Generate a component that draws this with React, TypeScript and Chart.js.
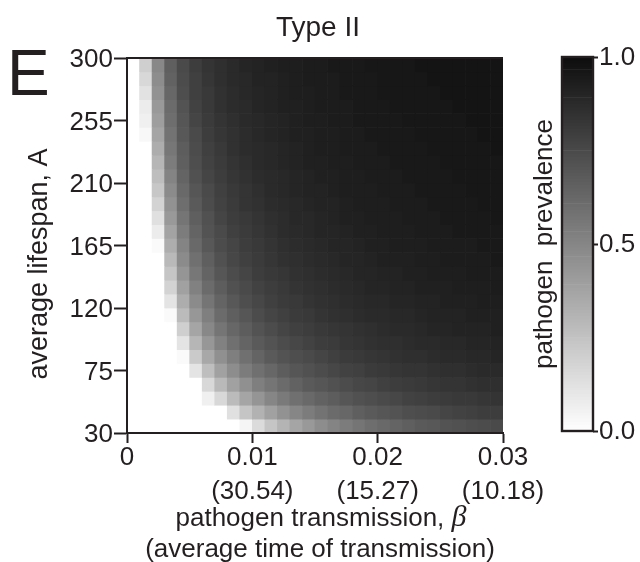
import React, { useEffect, useRef } from "react";
import { Chart, registerables } from "chart.js";

Chart.register(...registerables);

// ---- data ----
const betaCenters = [
  0.0005, 0.0015, 0.0025, 0.0035, 0.0045, 0.0055, 0.0065, 0.0075, 0.0085, 0.0095,
  0.0105, 0.0115, 0.0125, 0.0135, 0.0145, 0.0155, 0.0165, 0.0175, 0.0185, 0.0195,
  0.0205, 0.0215, 0.0225, 0.0235, 0.0245, 0.0255, 0.0265, 0.0275, 0.0285, 0.0295,
];
const lifespanCenters = [
  35, 45, 55, 65, 75, 85, 95, 105, 115, 125, 135, 145, 155, 165, 175, 185, 195, 205,
  215, 225, 235, 245, 255, 265, 275, 285, 295,
];
const lifespanStep = 10;

// prevalence per lifespan row (same order as lifespanCenters), per beta column
const prevalenceRows = [
  [0,0,0,0,0,0,0,0,0,0.04,0.15,0.24,0.31,0.37,0.42,0.47,0.51,0.54,0.57,0.60,0.62,0.64,0.66,0.68,0.69,0.71,0.72,0.73,0.74,0.75],
  [0,0,0,0,0,0,0,0,0.13,0.24,0.32,0.39,0.45,0.50,0.54,0.58,0.61,0.63,0.66,0.68,0.70,0.71,0.73,0.74,0.75,0.77,0.78,0.79,0.80,0.80],
  [0,0,0,0,0,0,0.06,0.16,0.28,0.37,0.44,0.50,0.55,0.59,0.62,0.65,0.67,0.70,0.72,0.73,0.75,0.76,0.78,0.79,0.80,0.81,0.82,0.82,0.83,0.84],
  [0,0,0,0,0,0,0.16,0.29,0.39,0.46,0.53,0.57,0.61,0.65,0.68,0.70,0.72,0.74,0.76,0.77,0.79,0.80,0.81,0.82,0.83,0.84,0.84,0.85,0.86,0.86],
  [0,0,0,0,0,0.11,0.27,0.39,0.47,0.54,0.59,0.63,0.67,0.70,0.72,0.74,0.76,0.78,0.79,0.81,0.82,0.83,0.84,0.84,0.85,0.86,0.86,0.87,0.88,0.88],
  [0,0,0,0,0.02,0.22,0.36,0.46,0.53,0.59,0.64,0.68,0.71,0.73,0.75,0.77,0.79,0.81,0.82,0.83,0.84,0.85,0.86,0.86,0.87,0.88,0.88,0.89,0.89,0.90],
  [0,0,0,0,0.11,0.30,0.43,0.52,0.59,0.64,0.68,0.71,0.74,0.76,0.78,0.80,0.81,0.83,0.84,0.85,0.86,0.86,0.87,0.88,0.88,0.89,0.89,0.90,0.90,0.91],
  [0,0,0,0,0.20,0.37,0.49,0.57,0.63,0.67,0.71,0.74,0.77,0.79,0.80,0.82,0.83,0.84,0.85,0.86,0.87,0.88,0.88,0.89,0.90,0.90,0.91,0.91,0.91,0.92],
  [0,0,0,0.02,0.28,0.43,0.53,0.61,0.66,0.70,0.74,0.77,0.79,0.81,0.82,0.84,0.85,0.86,0.87,0.88,0.88,0.89,0.89,0.90,0.91,0.91,0.91,0.92,0.92,0.92],
  [0,0,0,0.11,0.34,0.48,0.57,0.64,0.69,0.73,0.76,0.79,0.81,0.82,0.84,0.85,0.86,0.87,0.88,0.89,0.89,0.90,0.90,0.91,0.91,0.92,0.92,0.92,0.93,0.93],
  [0,0,0,0.18,0.39,0.52,0.61,0.67,0.72,0.75,0.78,0.80,0.82,0.84,0.85,0.86,0.87,0.88,0.89,0.90,0.90,0.91,0.91,0.92,0.92,0.92,0.93,0.93,0.93,0.94],
  [0,0,0,0.24,0.44,0.56,0.64,0.70,0.74,0.77,0.80,0.82,0.83,0.85,0.86,0.87,0.88,0.89,0.90,0.90,0.91,0.91,0.92,0.92,0.93,0.93,0.93,0.94,0.94,0.94],
  [0,0,0,0.29,0.48,0.59,0.66,0.72,0.76,0.79,0.81,0.83,0.85,0.86,0.87,0.88,0.89,0.90,0.90,0.91,0.92,0.92,0.92,0.93,0.93,0.94,0.94,0.94,0.94,0.95],
  [0,0,0.02,0.34,0.51,0.62,0.69,0.74,0.77,0.80,0.82,0.84,0.86,0.87,0.88,0.89,0.90,0.90,0.91,0.92,0.92,0.93,0.93,0.93,0.94,0.94,0.94,0.94,0.95,0.95],
  [0,0,0.08,0.38,0.54,0.64,0.71,0.75,0.79,0.81,0.83,0.85,0.87,0.88,0.89,0.90,0.90,0.91,0.92,0.92,0.93,0.93,0.93,0.94,0.94,0.94,0.95,0.95,0.95,0.95],
  [0,0,0.13,0.42,0.57,0.66,0.72,0.77,0.80,0.82,0.84,0.86,0.87,0.89,0.89,0.90,0.91,0.92,0.92,0.93,0.93,0.93,0.94,0.94,0.94,0.95,0.95,0.95,0.95,0.96],
  [0,0,0.18,0.45,0.60,0.68,0.74,0.78,0.81,0.84,0.85,0.87,0.88,0.89,0.90,0.91,0.91,0.92,0.93,0.93,0.93,0.94,0.94,0.94,0.95,0.95,0.95,0.95,0.96,0.96],
  [0,0,0.23,0.48,0.62,0.70,0.75,0.79,0.82,0.84,0.86,0.88,0.89,0.90,0.91,0.91,0.92,0.93,0.93,0.93,0.94,0.94,0.94,0.95,0.95,0.95,0.95,0.96,0.96,0.96],
  [0,0,0.27,0.51,0.64,0.72,0.77,0.80,0.83,0.85,0.87,0.88,0.89,0.90,0.91,0.92,0.92,0.93,0.93,0.94,0.94,0.94,0.95,0.95,0.95,0.95,0.96,0.96,0.96,0.96],
  [0,0,0.30,0.54,0.66,0.73,0.78,0.81,0.84,0.86,0.88,0.89,0.90,0.91,0.92,0.92,0.93,0.93,0.94,0.94,0.94,0.95,0.95,0.95,0.95,0.96,0.96,0.96,0.96,0.96],
  [0,0,0.34,0.56,0.67,0.74,0.79,0.82,0.85,0.87,0.88,0.89,0.90,0.91,0.92,0.93,0.93,0.94,0.94,0.94,0.95,0.95,0.95,0.95,0.96,0.96,0.96,0.96,0.96,0.97],
  [0,0.03,0.37,0.58,0.69,0.75,0.80,0.83,0.85,0.87,0.89,0.90,0.91,0.92,0.92,0.93,0.93,0.94,0.94,0.95,0.95,0.95,0.95,0.96,0.96,0.96,0.96,0.96,0.97,0.97],
  [0,0.06,0.40,0.60,0.70,0.77,0.81,0.84,0.86,0.88,0.89,0.90,0.91,0.92,0.93,0.93,0.94,0.94,0.95,0.95,0.95,0.95,0.96,0.96,0.96,0.96,0.96,0.97,0.97,0.97],
  [0,0.08,0.42,0.61,0.71,0.78,0.82,0.85,0.87,0.88,0.90,0.91,0.92,0.92,0.93,0.94,0.94,0.94,0.95,0.95,0.95,0.96,0.96,0.96,0.96,0.96,0.97,0.97,0.97,0.97],
  [0,0.12,0.45,0.63,0.73,0.79,0.82,0.85,0.87,0.89,0.90,0.91,0.92,0.93,0.93,0.94,0.94,0.95,0.95,0.95,0.96,0.96,0.96,0.96,0.96,0.97,0.97,0.97,0.97,0.97],
  [0,0.16,0.47,0.65,0.74,0.79,0.83,0.86,0.88,0.89,0.91,0.91,0.92,0.93,0.94,0.94,0.94,0.95,0.95,0.95,0.96,0.96,0.96,0.96,0.97,0.97,0.97,0.97,0.97,0.97],
  [0,0.20,0.49,0.66,0.75,0.80,0.84,0.86,0.88,0.90,0.91,0.92,0.93,0.93,0.94,0.94,0.95,0.95,0.95,0.96,0.96,0.96,0.96,0.97,0.97,0.97,0.97,0.97,0.97,0.97],
];

const yTickValues = [30, 75, 120, 165, 210, 255, 300];
const xTickValues = [0, 0.01, 0.02, 0.03];
const xTickLabels = ["0", "0.01", "0.02", "0.03"];
const xTickTimes = ["", "(30.54)", "(15.27)", "(10.18)"];
const colorbarTicks = [0, 0.5, 1];
const colorbarLabels = ["0.0", "0.5", "1.0"];
const colorbarSteps = 120;

const FONT = "'Liberation Sans', Arial, Helvetica, sans-serif";
const INK = "#231f20";

function grayFor(p: number): string {
  const g = Math.round(255 - p * 242);
  return `rgb(${g},${g},${g})`;
}

export default function App() {
  const mainRef = useRef<HTMLCanvasElement | null>(null);
  const cbRef = useRef<HTMLCanvasElement | null>(null);

  useEffect(() => {
    if (!mainRef.current || !cbRef.current) return;

    const points: { x: number; y: [number, number] }[] = [];
    const colors: string[] = [];
    lifespanCenters.forEach((a, r) => {
      betaCenters.forEach((b, c) => {
        points.push({ x: b, y: [a - lifespanStep / 2, a + lifespanStep / 2] });
        colors.push(grayFor(prevalenceRows[r][c]));
      });
    });

    const decorPlugin = {
      id: "decor",
      afterDraw(chart: any) {
        const ctx = chart.ctx as CanvasRenderingContext2D;
        const area = chart.chartArea;
        ctx.save();
        ctx.fillStyle = INK;
        ctx.strokeStyle = INK;
        // top border
        ctx.lineWidth = 2;
        ctx.beginPath();
        ctx.moveTo(area.left - 1, area.top);
        ctx.lineTo(area.right, area.top);
        ctx.stroke();
        // title
        ctx.font = `28px ${FONT}`;
        ctx.textAlign = "center";
        ctx.textBaseline = "alphabetic";
        ctx.fillText("Type II", 318, 36);
        // panel letter
        ctx.font = `64px ${FONT}`;
        ctx.textAlign = "left";
        ctx.fillText("E", 7, 95);
        // x title
        const part1 = "pathogen transmission, ";
        ctx.font = `26px ${FONT}`;
        const w1 = ctx.measureText(part1).width;
        ctx.font = `italic 30px 'Liberation Serif', 'DejaVu Serif', serif`;
        const w2 = ctx.measureText("β").width;
        const sx = 321 - (w1 + w2) / 2;
        ctx.font = `26px ${FONT}`;
        ctx.fillText(part1, sx, 526);
        ctx.font = `italic 30px 'Liberation Serif', 'DejaVu Serif', serif`;
        ctx.fillText("β", sx + w1, 526);
        ctx.font = `26px ${FONT}`;
        ctx.textAlign = "center";
        ctx.fillText("(average time of transmission)", 320, 557);
        // y title
        ctx.translate(40, 264);
        ctx.rotate(-Math.PI / 2);
        ctx.textBaseline = "middle";
        ctx.font = `27px ${FONT}`;
        ctx.fillText("average lifespan, A", 0, 0);
        ctx.restore();
      },
    };

    const main = new Chart(mainRef.current, {
      type: "bar",
      data: {
        datasets: [
          {
            data: points as any,
            backgroundColor: colors,
            borderWidth: 0,
            barPercentage: 1,
            categoryPercentage: 1,
          },
        ],
      },
      options: {
        animation: false,
        responsive: false,
        events: [],
        layout: { padding: { left: 0, right: 137, top: 58, bottom: 0 } },
        plugins: {
          legend: { display: false },
          tooltip: { enabled: false },
          title: { display: false },
        },
        scales: {
          x: {
            type: "linear",
            min: 0,
            max: 0.03,
            offset: false,
            afterBuildTicks: (s: any) => {
              s.ticks = xTickValues.map((v) => ({ value: v }));
            },
            afterFit: (s: any) => {
              s.height = 129;
            },
            ticks: {
              autoSkip: false,
              maxRotation: 0,
              padding: -2,
              color: INK,
              font: { family: FONT, size: 26, lineHeight: 34 / 26 },
              callback: (_v: any, i: number) =>
                xTickTimes[i] ? [xTickLabels[i], xTickTimes[i]] : xTickLabels[i],
            },
            grid: {
              offset: false,
              drawOnChartArea: false,
              drawTicks: true,
              tickLength: 10,
              tickWidth: 2,
              tickColor: INK,
            },
            border: { display: true, color: INK, width: 2, z: 1 },
          },
          y: {
            type: "linear",
            min: 30,
            max: 300,
            afterBuildTicks: (s: any) => {
              s.ticks = yTickValues.map((v) => ({ value: v }));
            },
            afterFit: (s: any) => {
              s.width = 127;
            },
            ticks: {
              autoSkip: false,
              padding: 1,
              labelOffset: 2,
              color: INK,
              font: { family: FONT, size: 26 },
              callback: (v: any) => String(v),
            },
            grid: {
              drawOnChartArea: false,
              drawTicks: true,
              tickLength: 13,
              tickWidth: 2,
              tickColor: INK,
            },
            border: { display: true, color: INK, width: 2, z: 1 },
          },
        },
      },
      plugins: [decorPlugin],
    } as any);

    // colorbar
    const cbPoints: { x: string; y: [number, number] }[] = [];
    const cbColors: string[] = [];
    for (let i = 0; i < colorbarSteps; i++) {
      cbPoints.push({ x: "cb", y: [i / colorbarSteps, (i + 1) / colorbarSteps] });
      cbColors.push(grayFor((i + 0.5) / colorbarSteps));
    }

    const cbPlugin = {
      id: "cbDecor",
      afterDraw(chart: any) {
        const ctx = chart.ctx as CanvasRenderingContext2D;
        const a = chart.chartArea;
        ctx.save();
        ctx.strokeStyle = INK;
        ctx.lineWidth = 2.4;
        ctx.strokeRect(a.left, a.top, a.right - a.left, a.bottom - a.top);
        ctx.fillStyle = INK;
        ctx.font = `26px ${FONT}`;
        ctx.textAlign = "center";
        ctx.textBaseline = "middle";
        ctx.translate(25, 244);
        ctx.rotate(-Math.PI / 2);
        ctx.fillText("pathogen  prevalence", 0, 0);
        ctx.restore();
      },
    };

    const cb = new Chart(cbRef.current, {
      type: "bar",
      data: {
        labels: ["cb"],
        datasets: [
          {
            data: cbPoints as any,
            backgroundColor: cbColors,
            borderWidth: 0,
            barPercentage: 1,
            categoryPercentage: 1,
          },
        ],
      },
      options: {
        animation: false,
        responsive: false,
        events: [],
        layout: { padding: { left: 42, right: 0, top: 57, bottom: 131 } },
        plugins: {
          legend: { display: false },
          tooltip: { enabled: false },
          title: { display: false },
        },
        scales: {
          x: { display: false },
          y: {
            type: "linear",
            position: "right",
            min: 0,
            max: 1,
            afterBuildTicks: (s: any) => {
              s.ticks = colorbarTicks.map((v) => ({ value: v }));
            },
            afterFit: (s: any) => {
              s.width = 47;
            },
            ticks: {
              autoSkip: false,
              padding: 1,
              labelOffset: 1,
              color: INK,
              font: { family: FONT, size: 26 },
              callback: (_v: any, i: number) => colorbarLabels[i],
            },
            grid: {
              drawOnChartArea: false,
              drawTicks: true,
              tickLength: 5,
              tickWidth: 2,
              tickColor: INK,
            },
            border: { display: false },
          },
        },
      },
      plugins: [cbPlugin],
    } as any);

    return () => {
      main.destroy();
      cb.destroy();
    };
  }, []);

  return (
    <div
      style={{
        position: "absolute",
        left: 0,
        top: 0,
        width: 640,
        height: 562,
        background: "#fff",
        overflow: "hidden",
      }}
    >
      <canvas
        ref={mainRef}
        width={640}
        height={562}
        style={{ position: "absolute", left: 0, top: 0 }}
      />
      <canvas
        ref={cbRef}
        width={120}
        height={562}
        style={{ position: "absolute", left: 520, top: 0 }}
      />
    </div>
  );
}
